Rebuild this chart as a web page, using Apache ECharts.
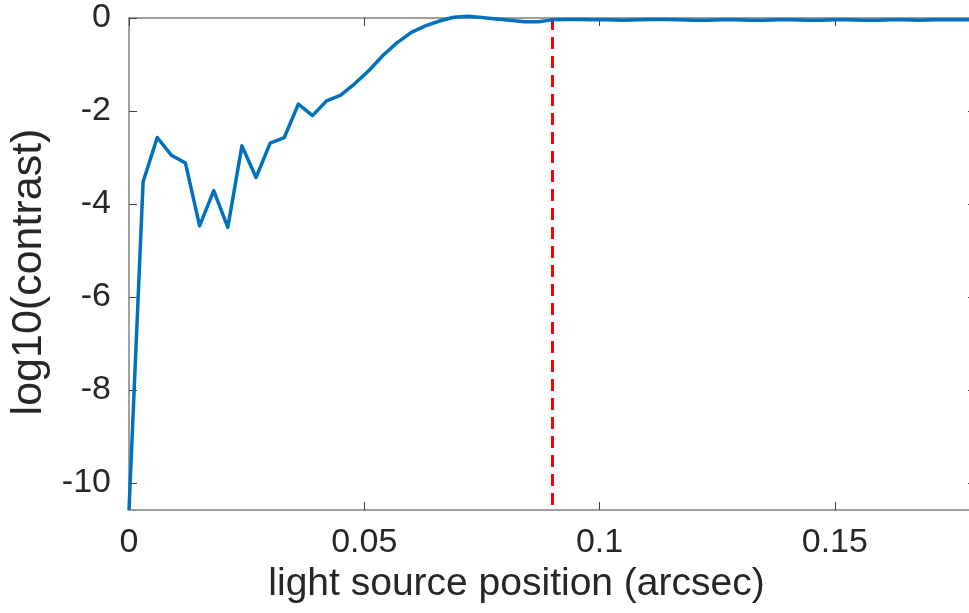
<!DOCTYPE html>
<html>
<head>
<meta charset="utf-8">
<script src="https://cdn.jsdelivr.net/npm/echarts@6/dist/echarts.min.js"></script>
<style>
html,body{margin:0;padding:0;background:#fff;}
#chart{width:969px;height:613px;}
</style>
</head>
<body>
<div id="chart"></div>
<script>
// Light source position (arcsec)
var positions = [0,0.003,0.006,0.009,0.012,0.015,0.018,0.021,0.024,0.027,
  0.030,0.033,0.036,0.039,0.042,0.045,0.048,0.051,0.054,0.057,
  0.060,0.063,0.066,0.069,0.072,0.075,0.078,0.081,0.084,0.087,
  0.090,0.093,0.096,0.099,0.102,0.105,0.108,0.111,0.114,0.117,
  0.120,0.123,0.126,0.129,0.132,0.135,0.138,0.141,0.144,0.147,
  0.150,0.153,0.156,0.159,0.162,0.165,0.168,0.171,0.174,0.177,0.180];
// log10(contrast)
var contrast = [-10.58,-3.52,-2.57,-2.95,-3.12,-4.47,-3.71,-4.50,-2.75,-3.43,
  -2.69,-2.57,-1.85,-2.10,-1.78,-1.66,-1.41,-1.13,-0.80,-0.53,
  -0.31,-0.17,-0.065,0.015,0.04,0.01,-0.02,-0.05,-0.08,-0.08,
  -0.04,-0.03,-0.03,-0.04,-0.04,-0.05,-0.04,-0.03,-0.03,-0.04,
  -0.05,-0.05,-0.04,-0.04,-0.05,-0.05,-0.04,-0.04,-0.05,-0.05,
  -0.04,-0.04,-0.05,-0.05,-0.04,-0.04,-0.05,-0.04,-0.04,-0.04,-0.04];
var xTicks = [0, 0.05, 0.1, 0.15];
var yTicks = [-10, -8, -6, -4, -2, 0];
var xRange = [0, 0.18];
var yRange = [-10.58, 0];
var markerX = 0.09;

var chart = echarts.init(document.getElementById('chart'), null, {renderer:'canvas'});
var axisColor = '#808080';
var textColor = '#262626';
var font = '"Liberation Sans", Arial, Helvetica, sans-serif';

function baseAxis(extra){
  return Object.assign({
    type:'value',
    axisLine:{show:true, onZero:false, lineStyle:{color:axisColor, width:1.5}},
    splitLine:{show:false}
  }, extra);
}

var option = {
  backgroundColor:'#ffffff',
  animation:false,
  grid:{left:129, top:18, width:847, height:492, containLabel:false, outerBoundsMode:'none'},
  xAxis:[
    baseAxis({
      position:'bottom', min:xRange[0], max:xRange[1],
      name:'light source position (arcsec)', nameLocation:'middle', nameGap:47,
      nameTextStyle:{color:textColor, fontSize:39, fontFamily:font, padding:[0,72,0,0]},
      axisTick:{show:true, inside:true, length:8, customValues:xTicks, lineStyle:{color:'#404040', width:1}},
      axisLabel:{show:true, customValues:xTicks, margin:16, color:textColor, fontSize:34, fontFamily:font,
        formatter:function(v){ return String(+v.toFixed(3)); }}
    }),
    baseAxis({
      position:'top', min:xRange[0], max:xRange[1],
      axisTick:{show:true, inside:true, length:8, customValues:xTicks, lineStyle:{color:'#404040', width:1}},
      axisLabel:{show:false}
    })
  ],
  yAxis:[
    baseAxis({
      position:'left', min:yRange[0], max:yRange[1],
      name:'log10(contrast)', nameLocation:'middle', nameGap:67, nameRotate:90,
      nameTextStyle:{color:textColor, fontSize:43, fontFamily:font, padding:[0,16,0,0]},
      axisTick:{show:true, inside:true, length:8, customValues:yTicks, lineStyle:{color:'#404040', width:1}},
      axisLabel:{show:true, customValues:yTicks, margin:18, color:textColor, fontSize:34, fontFamily:font}
    }),
    baseAxis({
      position:'right', min:yRange[0], max:yRange[1],
      axisTick:{show:true, inside:true, length:8, customValues:yTicks, lineStyle:{color:'#404040', width:1}},
      axisLabel:{show:false}
    })
  ],
  series:[
    {
      type:'line', xAxisIndex:0, yAxisIndex:0, symbol:'none', clip:false, silent:true,
      data:[[markerX, yRange[1]],[markerX, yRange[0]]],
      lineStyle:{color:'#ff0000', width:3, type:[12,7]},
      z:2
    },
    {
      type:'line', xAxisIndex:0, yAxisIndex:0, symbol:'none', clip:false, silent:true,
      data:positions.map(function(x,i){ return [x, contrast[i]]; }),
      lineStyle:{color:'#0072BD', width:3.5, join:'round'},
      z:3
    }
  ]
};
chart.setOption(option);
</script>
</body>
</html>
